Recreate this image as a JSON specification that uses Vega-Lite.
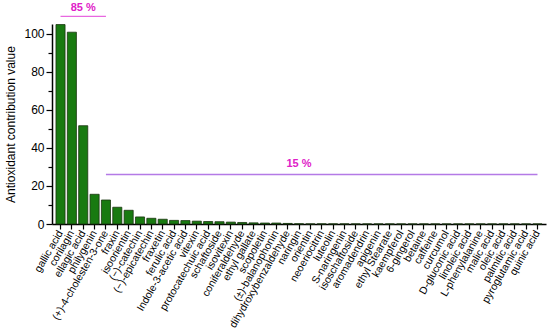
{
  "$schema": "https://vega.github.io/schema/vega-lite/v6.json",
  "autosize": "none",
  "width": 494,
  "height": 200,
  "padding": {"left": 52, "top": 24, "right": 4, "bottom": 106},
  "background": "white",
  "config": {
    "view": {"stroke": null},
    "font": "Liberation Sans",
    "axis": {"domainColor": "black", "tickColor": "black", "labelColor": "black", "titleColor": "black", "grid": false, "labelFont": "Liberation Sans", "titleFont": "Liberation Sans", "domainWidth": 1.5, "tickWidth": 1.2}
  },
  "datasets": {
    "bars": [
      {"compound": "gallic acid", "value": 104.7},
      {"compound": "corilagin", "value": 100.7},
      {"compound": "ellagic acid", "value": 51.6},
      {"compound": "philygenin", "value": 15.6},
      {"compound": "(+)-4-cholesten-3-one", "value": 12.6},
      {"compound": "fraxin", "value": 8.8},
      {"compound": "isoorientin", "value": 7.2},
      {"compound": "(−)-catechin", "value": 3.7},
      {"compound": "(−)-epicatechin", "value": 3.0},
      {"compound": "fraxetin", "value": 2.5},
      {"compound": "ferulic acid", "value": 1.9},
      {"compound": "Indole-3-acetic acid", "value": 1.8},
      {"compound": "vitexin", "value": 1.5},
      {"compound": "protocatechuic acid", "value": 1.3},
      {"compound": "schaftoside", "value": 1.2},
      {"compound": "isovitexin", "value": 1.0},
      {"compound": "coniferaldehyde", "value": 0.8},
      {"compound": "ethyl gallate", "value": 0.6},
      {"compound": "scopoletin", "value": 0.5},
      {"compound": "(±)-balanophonin", "value": 0.5},
      {"compound": "dihydroxybenzaldehyde", "value": 0.3},
      {"compound": "naringin", "value": 0.1},
      {"compound": "orientin", "value": 0.05},
      {"compound": "neoeriocitrin", "value": 0.05},
      {"compound": "luteolin", "value": 0.04},
      {"compound": "S-naringenin", "value": 0.03},
      {"compound": "isoschaftoside", "value": 0.03},
      {"compound": "aromadendrin", "value": 0.02},
      {"compound": "apigenin", "value": 0.02},
      {"compound": "ethyl Stearate", "value": 0.02},
      {"compound": "kaempferol", "value": 0.01},
      {"compound": "6-gingerol", "value": 0.01},
      {"compound": "betaine", "value": 0.01},
      {"compound": "caffeine", "value": 0.01},
      {"compound": "curcumol", "value": 0.01},
      {"compound": "D-gluconic acid", "value": 0.01},
      {"compound": "linoleic acid", "value": 0.01},
      {"compound": "L-phenylalanine", "value": 0.01},
      {"compound": "malic acid", "value": 0.01},
      {"compound": "oleic acid", "value": 0.01},
      {"compound": "palmitic acid", "value": 0.01},
      {"compound": "pyroglutamic acid", "value": 0.01},
      {"compound": "quinic acid", "value": 0.01}
    ],
    "brackets": [
      {"start": "gallic acid", "end": "(+)-4-cholesten-3-one", "y": 109, "color": "#e868e0"},
      {"start": "(+)-4-cholesten-3-one", "end": "quinic acid", "y": 26, "color": "#b47ae6"}
    ],
    "labels": [
      {"at": "ellagic acid", "y": 113.5, "text": "85 %"},
      {"at": "naringin", "y": 31.5, "text": "15 %"}
    ]
  },
  "layer": [
    {
      "data": {"name": "bars"},
      "mark": {"type": "bar", "fill": "#187a10", "stroke": "#1a3510", "strokeWidth": 0.8},
      "encoding": {
        "x": {
          "field": "compound", "type": "nominal", "sort": null,
          "scale": {"paddingInner": 0.2, "paddingOuter": 0.35},
          "axis": {"title": null, "labelAngle": -60, "labelFontSize": 10.5, "tickSize": 5, "labelPadding": 2, "labelAlign": "right", "labelBaseline": "middle", "labelLimit": 200, "labelOverlap": false}
        },
        "y": {
          "field": "value", "type": "quantitative",
          "scale": {"domain": [0, 105], "nice": false},
          "axis": {
            "title": "Antioxidant contribution value", "titleFontSize": 12, "titleFontWeight": "normal", "titlePadding": 6,
            "labelFontSize": 12, "labelPadding": 2, "labelOverlap": false, "labelFlush": false,
            "values": [0, 10, 20, 30, 40, 50, 60, 70, 80, 90, 100],
            "labelExpr": "datum.value % 20 === 0 ? datum.label : ''",
            "tickSize": {"condition": {"test": "datum.value % 20 === 0", "value": 6}, "value": 4}
          }
        }
      }
    },
    {
      "data": {"name": "brackets"},
      "mark": {"type": "rule", "strokeWidth": 1.3},
      "encoding": {
        "x": {"field": "start", "type": "nominal", "sort": null,
          "axis": {"title": null, "labelAngle": -60, "labelFontSize": 10.5, "tickSize": 5, "labelPadding": 2, "labelAlign": "right", "labelBaseline": "middle", "labelLimit": 200, "labelOverlap": false}},
        "x2": {"field": "end"},
        "y": {"field": "y", "type": "quantitative",
          "axis": {
            "title": "Antioxidant contribution value", "titleFontSize": 12, "titleFontWeight": "normal", "titlePadding": 6,
            "labelFontSize": 12, "labelPadding": 2, "labelOverlap": false, "labelFlush": false,
            "values": [0, 10, 20, 30, 40, 50, 60, 70, 80, 90, 100],
            "labelExpr": "datum.value % 20 === 0 ? datum.label : ''",
            "tickSize": {"condition": {"test": "datum.value % 20 === 0", "value": 6}, "value": 4}
          }},
        "color": {"field": "color", "type": "nominal", "scale": null}
      }
    },
    {
      "data": {"name": "labels"},
      "mark": {"type": "text", "color": "#e020c8", "fontSize": 11, "fontWeight": "bold", "font": "Liberation Sans"},
      "encoding": {
        "x": {"field": "at", "type": "nominal", "sort": null,
          "axis": {"title": null, "labelAngle": -60, "labelFontSize": 10.5, "tickSize": 5, "labelPadding": 2, "labelAlign": "right", "labelBaseline": "middle", "labelLimit": 200, "labelOverlap": false}},
        "y": {"field": "y", "type": "quantitative",
          "axis": {
            "title": "Antioxidant contribution value", "titleFontSize": 12, "titleFontWeight": "normal", "titlePadding": 6,
            "labelFontSize": 12, "labelPadding": 2, "labelOverlap": false, "labelFlush": false,
            "values": [0, 10, 20, 30, 40, 50, 60, 70, 80, 90, 100],
            "labelExpr": "datum.value % 20 === 0 ? datum.label : ''",
            "tickSize": {"condition": {"test": "datum.value % 20 === 0", "value": 6}, "value": 4}
          }},
        "text": {"field": "text"}
      }
    }
  ]
}
